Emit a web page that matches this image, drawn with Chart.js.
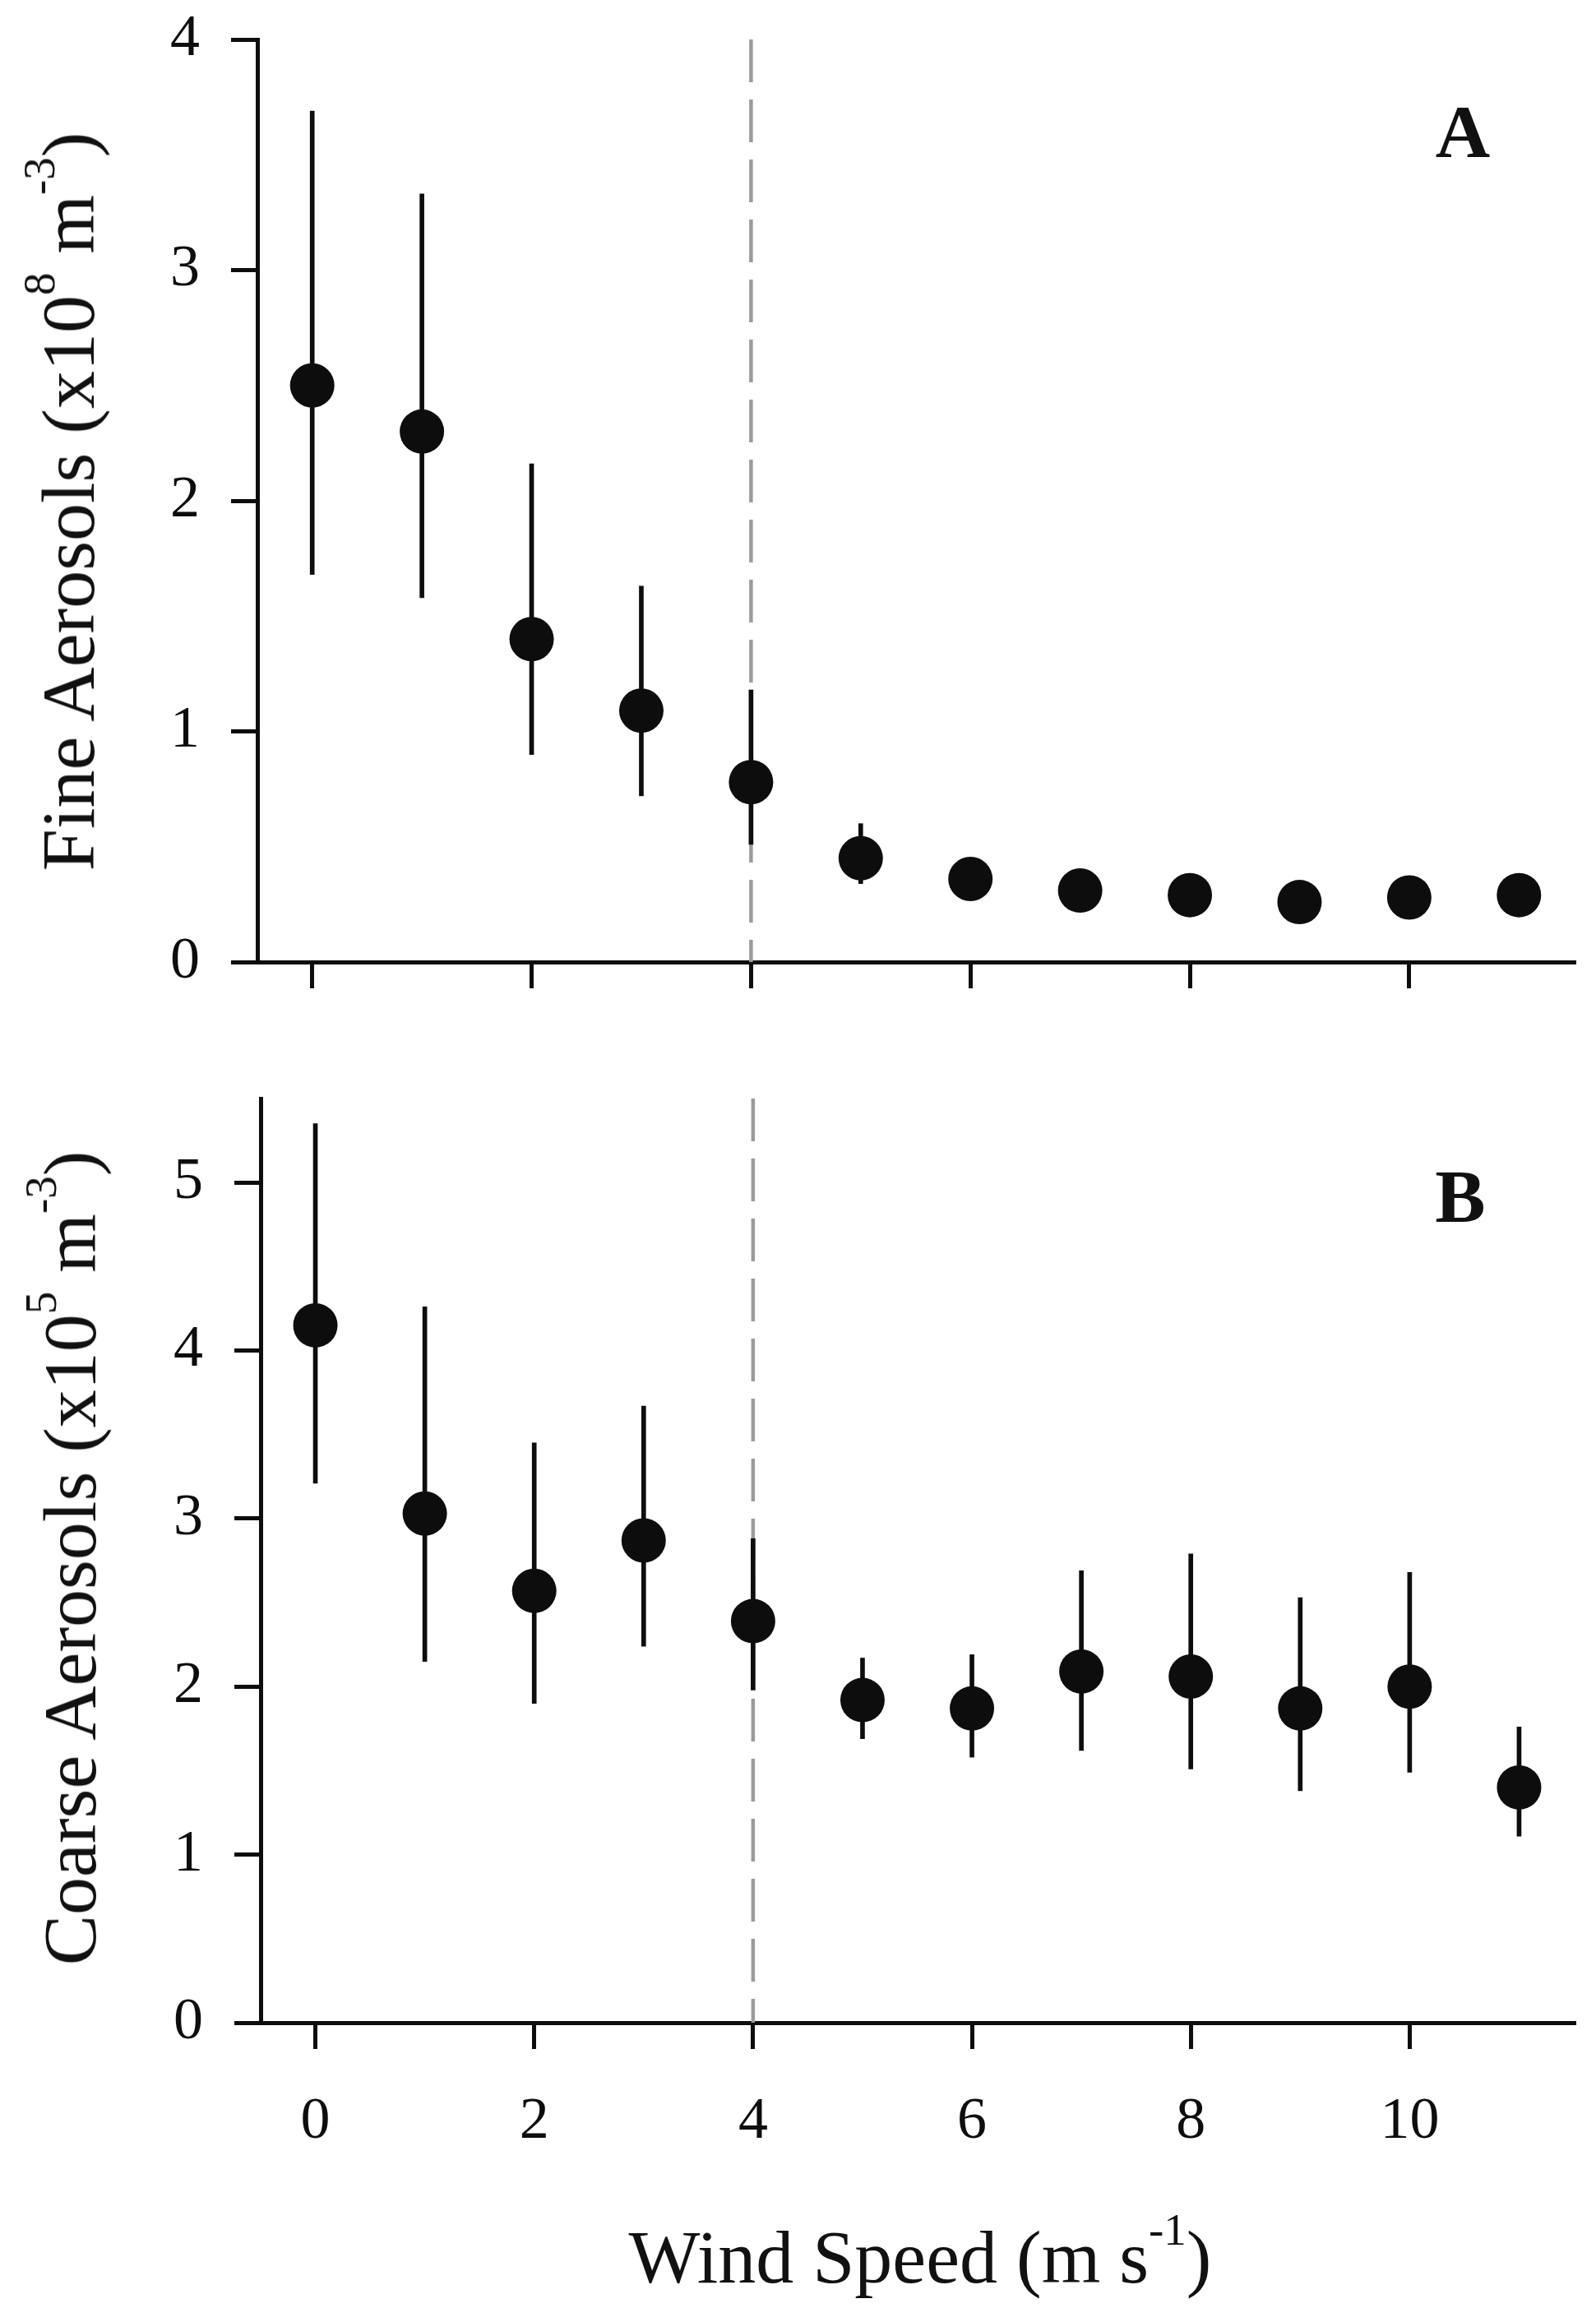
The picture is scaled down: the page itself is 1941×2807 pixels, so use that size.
<!DOCTYPE html>
<html>
<head>
<meta charset="utf-8">
<script src="https://cdn.jsdelivr.net/npm/chart.js@4.4.1/dist/chart.umd.min.js"></script>
<style>
html,body{margin:0;padding:0;background:#fff;}
body{width:1941px;height:2807px;position:relative;overflow:hidden;font-family:'Liberation Serif','Times New Roman',serif;color:#111;}
canvas{position:absolute;left:0;}
.t{position:absolute;white-space:nowrap;font-size:92px;line-height:92px;}
.sup{position:relative;font-size:55px;line-height:0;}
.yt{transform:translate(-50%,-50%) rotate(-90deg);}
.cx{transform:translateX(-50%);}
</style>
</head>
<body>
<canvas id="cA" width="1941" height="1250" style="top:0px;width:1941px;height:1250px"></canvas>
<canvas id="cB" width="1941" height="1400" style="top:1250px;width:1941px;height:1400px"></canvas>

<div class="t yt" style="left:83px;top:610px">Fine Aerosols (x10<span class="sup" style="top:-48px">8</span> m<span class="sup" style="top:-48px">-3</span>)</div>
<div class="t yt" style="left:85px;top:1895px">Coarse Aerosols (x10<span class="sup" style="top:-48px">5</span> m<span class="sup" style="top:-48px">-3</span>)</div>
<div class="t cx" style="left:1119px;top:2699px">Wind Speed (m s<span class="sup" style="top:-46px">-1</span>)</div>
<div class="t cx" style="left:1779px;top:114px;font-weight:bold">A</div>
<div class="t cx" style="left:1776px;top:1409px;font-weight:bold">B</div>

<script>
// ---- data ----
const windSpeed = [0, 1, 2, 3, 4, 5, 6, 7, 8, 9, 10, 11];

const fineMean = [2.50, 2.30, 1.40, 1.09, 0.78, 0.45, 0.36, 0.31, 0.29, 0.26, 0.28, 0.29];
const fineLow  = [1.68, 1.58, 0.90, 0.72, 0.51, 0.34, 0.30, 0.27, 0.26, 0.23, 0.25, 0.20];
const fineHigh = [3.69, 3.33, 2.16, 1.63, 1.18, 0.60, 0.42, 0.35, 0.32, 0.29, 0.31, 0.38];

const coarseMean = [4.15, 3.03, 2.57, 2.87, 2.39, 1.92, 1.87, 2.09, 2.06, 1.87, 2.00, 1.40];
const coarseLow  = [3.21, 2.15, 1.90, 2.24, 1.98, 1.69, 1.58, 1.62, 1.51, 1.38, 1.49, 1.11];
const coarseHigh = [5.35, 4.26, 3.45, 3.67, 2.88, 2.17, 2.19, 2.69, 2.79, 2.53, 2.68, 1.76];

const xTicks = [0, 2, 4, 6, 8, 10];
const xRange = [-0.5, 11.5];
const fineYTicks = [0, 1, 2, 3, 4];
const fineYRange = [0, 4];
const coarseYTicks = [0, 1, 2, 3, 4, 5];
const coarseYRange = [0, 5.5];
const thresholdSpeed = 4;

// ---- chart setup ----
Chart.defaults.font.family = "'Liberation Serif', 'Times New Roman', serif";
Chart.defaults.color = '#111';
Chart.defaults.animation = false;

const INK = '#0d0d0d';

function makePanel(canvasId, mean, low, high, yTicks, yRange, showXLabels, geom) {
  const ctx = document.getElementById(canvasId).getContext('2d');
  return new Chart(ctx, {
    type: 'scatter',
    data: {
      datasets: [
        {
          type: 'scatter',
          data: windSpeed.map((x, i) => ({ x: x, y: mean[i] })),
          pointRadius: 27,
          pointHoverRadius: 27,
          pointBackgroundColor: INK,
          pointBorderWidth: 0,
          order: 0
        },
        {
          type: 'bar',
          data: windSpeed.map((x, i) => ({ x: x, y: [low[i], high[i]] })),
          barThickness: 5,
          backgroundColor: INK,
          borderWidth: 0,
          order: 1
        },
        {
          type: 'line',
          data: [{ x: thresholdSpeed, y: yRange[1] }, { x: thresholdSpeed, y: yRange[0] }],
          borderColor: '#9b9b9b',
          borderWidth: 4.5,
          borderDash: [52, 21],
          pointRadius: 0,
          fill: false,
          tension: 0,
          order: 2
        }
      ]
    },
    options: {
      responsive: false,
      devicePixelRatio: 1,
      animation: false,
      layout: { padding: { top: geom.padTop, right: geom.padRight, left: 0, bottom: 0 } },
      plugins: { legend: { display: false }, tooltip: { enabled: false } },
      scales: {
        x: {
          type: 'linear',
          min: xRange[0],
          max: xRange[1],
          offset: false,
          grid: { display: true, drawOnChartArea: false, drawTicks: true, tickLength: 32, color: INK, lineWidth: 5, offset: false },
          border: { display: true, color: INK, width: 5 },
          ticks: {
            font: { size: 72 },
            color: INK,
            padding: 46,
            maxRotation: 0,
            autoSkip: false,
            callback: (v) => showXLabels ? String(v) : ''
          },
          afterBuildTicks: (s) => { s.ticks = xTicks.map(v => ({ value: v })); },
          afterFit: (s) => { s.height = geom.xHeight; }
        },
        y: {
          type: 'linear',
          min: yRange[0],
          max: yRange[1],
          grid: { display: true, drawOnChartArea: false, drawTicks: true, tickLength: 32, color: INK, lineWidth: 5 },
          border: { display: true, color: INK, width: 5 },
          ticks: {
            font: { size: 72, lineHeight: 0.2 },
            color: INK,
            padding: 38,
            autoSkip: false,
            callback: (v) => String(v)
          },
          afterBuildTicks: (s) => { s.ticks = yTicks.map(v => ({ value: v })); },
          afterFit: (s) => { s.width = geom.yWidth; }
        }
      }
    }
  });
}

makePanel('cA', fineMean, fineLow, fineHigh, fineYTicks, fineYRange, false,
  { padTop: 48, padRight: 24, yWidth: 313, xHeight: 80 });
makePanel('cB', coarseMean, coarseLow, coarseHigh, coarseYTicks, coarseYRange, true,
  { padTop: 86, padRight: 20, yWidth: 317, xHeight: 190 });
</script>
</body>
</html>
